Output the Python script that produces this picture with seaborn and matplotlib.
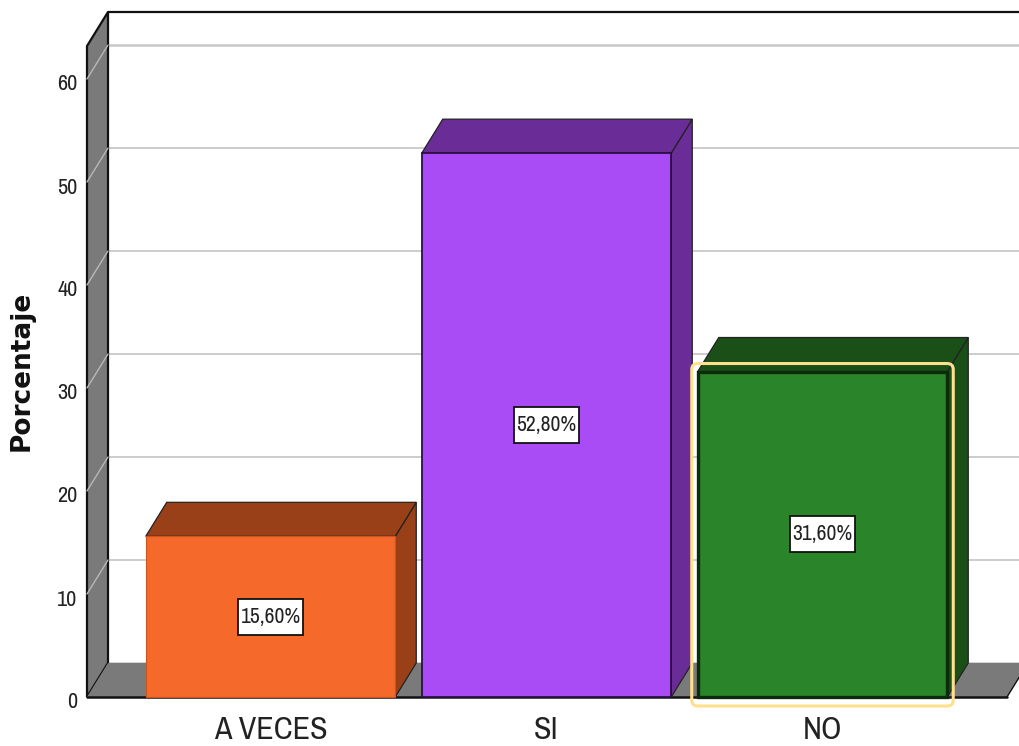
import matplotlib
matplotlib.use("Agg")
import matplotlib.pyplot as plt
from matplotlib.patches import Polygon, FancyBboxPatch, Rectangle
from matplotlib.transforms import ScaledTranslation
import pandas as pd
import seaborn as sns

categories = ["A VECES", "SI", "NO"]
percentages = [15.6, 52.8, 31.6]
value_labels = ["15,60%", "52,80%", "31,60%"]
front_colors = ["#F5692A", "#A94CF5", "#2A842A"]
side_colors = ["#9A4018", "#6A2C96", "#1A5018"]
edge_colors = ["#C8541F", "#2A0F45", "#0C2A0C"]
edge_widths = [0.8, 1.3, 2.4]
y_ticks = [0, 10, 20, 30, 40, 50, 60]

W, H = 1020, 746
sns.set_theme(style="white")
narrow = ["Archivo Narrow", "Roboto Condensed", "Liberation Sans", "DejaVu Sans"]
TEXT = "#222222"

fig = plt.figure(figsize=(W / 100, H / 100), dpi=100, facecolor="white")
ax = fig.add_axes([87 / W, 1 - 697 / H, (1007 - 87) / W, 651 / H])

frame = pd.DataFrame({"respuesta": categories, "porcentaje": percentages})
sns.barplot(data=frame, x="respuesta", y="porcentaje", hue="respuesta",
            order=categories, hue_order=categories, palette=front_colors,
            saturation=1, width=0.904, dodge=False, legend=False, ax=ax, zorder=4)

PX_X, PX_Y = 276, 10.3
x_min = (87 - 270.5) / PX_X
x_max = (1007 - 270.5) / PX_X
y_max = 651 / PX_Y
ax.set_xlim(x_min, x_max)
ax.set_ylim(0, y_max)
ax.patch.set_visible(False)
for spine in ax.spines.values():
    spine.set_visible(False)

DX, DY = 21 / PX_X, 34 / PX_Y


def face(points, color, edge="#111111", lw=1.0, z=1):
    ax.add_patch(Polygon(points, closed=True, facecolor=color, edgecolor=edge,
                         linewidth=lw, zorder=z, clip_on=False, joinstyle="miter"))


GREY = "#7A7A7A"
# Left wall and floor of the chart box
face([(x_min, 0), (x_min + DX, DY), (x_min + DX, y_max + DY), (x_min, y_max)], GREY, lw=1.6)
face([(x_min, 0), (x_max, 0), (x_max + DX, DY), (x_min + DX, DY)], GREY, edge="none")
ax.plot([x_min, x_max], [0, 0], color="#111111", lw=1.8, zorder=1.5, clip_on=False)
ax.plot([x_max, x_max + DX], [0, DY], color="#111111", lw=1.0, zorder=1.5, clip_on=False)
ax.plot([x_min + DX, x_max + DX], [y_max + DY] * 2, color="#111111", lw=1.6,
        zorder=1.5, clip_on=False)

# Grid lines on the back wall, carried across the left wall
for tick in y_ticks:
    ax.plot([x_min + DX, x_max + DX], [tick + DY] * 2, color="#C8C8C8",
            lw=1.8 if tick in (0, 60) else 1.3, zorder=0.8, clip_on=False)
    if tick:
        ax.plot([x_min, x_min + DX], [tick, tick + DY], color="#B8B8B8", lw=1.0,
                zorder=1.2, clip_on=False)

# Side and top faces built from each bar, plus the value label
BOX_W, BOX_H = 65 / PX_X, 36 / PX_Y
for bar, side, edge, width, label in zip(ax.patches, side_colors, edge_colors,
                                         edge_widths, value_labels):
    x0, x1, v = bar.get_x(), bar.get_x() + bar.get_width(), bar.get_height()
    bar.set_edgecolor(edge)
    bar.set_linewidth(width)
    bar.set_clip_on(False)
    face([(x1, 0), (x1 + DX, DY), (x1 + DX, v + DY), (x1, v)], side, edge="#222222", lw=0.9, z=3)
    face([(x0, v), (x0 + DX, v + DY), (x1 + DX, v + DY), (x1, v)], side, edge="#222222", lw=0.9, z=3)
    xc = (x0 + x1) / 2
    ax.add_patch(Rectangle((xc - BOX_W / 2, v / 2 - BOX_H / 2), BOX_W, BOX_H,
                           facecolor="white", edgecolor="#111111", linewidth=1.3, zorder=5))
    ax.text(xc, v / 2, label, ha="center", va="center", fontsize=15.5,
            family=narrow, color=TEXT, zorder=6)

# Selection outline around the last bar
last = ax.patches[2]
x_pad, y_low, y_high = 6 / PX_X, 9 / PX_Y, 8 / PX_Y
ax.add_patch(FancyBboxPatch(
    (last.get_x() - x_pad, -y_low),
    last.get_width() + 2 * x_pad, last.get_height() + y_low + y_high,
    boxstyle="round,pad=0,rounding_size=0.022", mutation_aspect=PX_X / PX_Y,
    facecolor="none", edgecolor="#FFE08C", linewidth=2.2, zorder=7, clip_on=False))

ax.set_yticks(y_ticks)
ax.set_yticklabels([str(t) for t in y_ticks], family=narrow, fontsize=16, color=TEXT)
ax.set_xticks(range(len(categories)))
ax.set_xticklabels(categories, family=narrow, fontsize=23, color=TEXT)
ax.tick_params(axis="y", length=0, pad=7)
ax.tick_params(axis="x", length=0, pad=14)
# The y labels sit slightly below their grid lines
nudge = ScaledTranslation(0, -3.5 / 100, fig.dpi_scale_trans)
for tick_label in ax.get_yticklabels():
    tick_label.set_transform(tick_label.get_transform() + nudge)
ax.set_xlabel("")
ax.set_ylabel("")
fig.text(22 / W, 1 - 371 / H, "Porcentaje", rotation=90, ha="center", va="center",
         family="DejaVu Sans", fontweight="bold", fontsize=19, color="#111111")

fig.savefig("out.png", dpi=100, facecolor="white")
